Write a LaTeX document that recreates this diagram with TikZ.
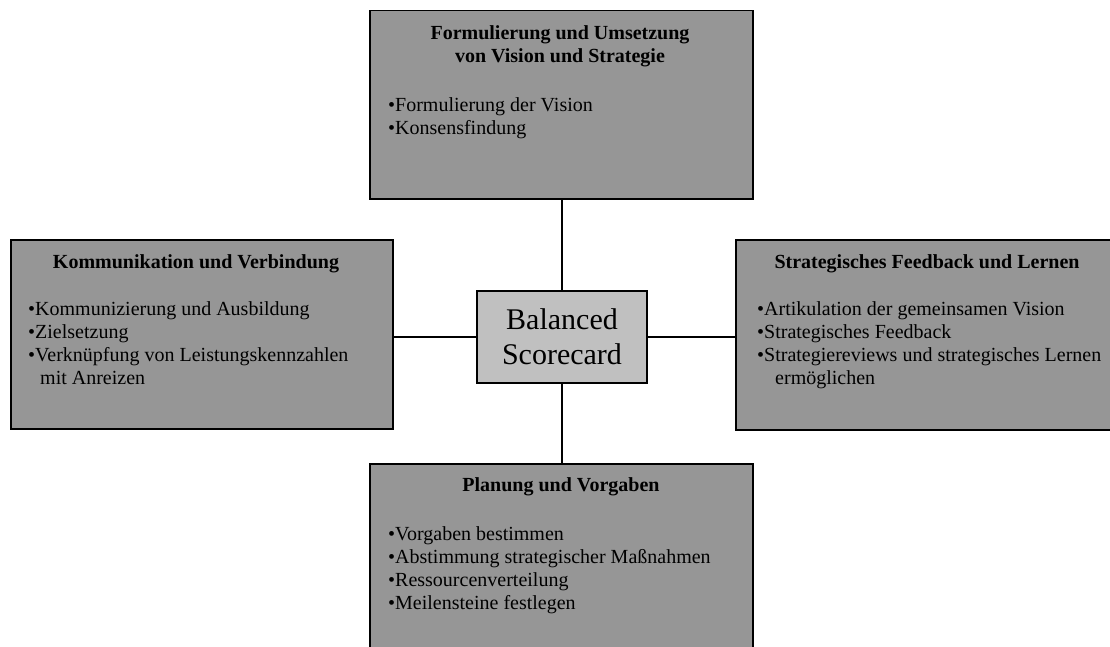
\documentclass[tikz,border=0pt]{standalone}
\usepackage{fontspec}
\setmainfont{Liberation Serif}
\usetikzlibrary{positioning}
\definecolor{boxgray}{RGB}{150,150,150}
\definecolor{coregray}{RGB}{192,192,192}

\begin{document}
\begin{tikzpicture}[x=1pt,y=-1pt,
  field/.style={draw,line width=1.5pt,fill=boxgray,anchor=north west,inner sep=0pt},
  head/.style={font=\fontsize{20}{23}\selectfont\bfseries,anchor=base,align=center,inner sep=0pt},
  item/.style={font=\fontsize{20}{23}\selectfont,anchor=base west,inner sep=0pt},
  link/.style={line width=1.3pt}]
\useasboundingbox (0,0) rectangle (1110,647);
\clip (0,0) rectangle (1110,647);
% the four fields round the core
\node[field,minimum width=383pt,minimum height=188pt] (vision) at (369,10) {};
\node[field,minimum width=382pt,minimum height=189pt] (komm) at (10,239) {};
\node[field,minimum width=450pt,minimum height=190pt] (feedback) at (735,239) {};
\node[field,minimum width=383pt,minimum height=200pt] (planung) at (369,463) {};
\node[draw,line width=1.5pt,fill=coregray,minimum width=170pt,minimum height=92pt,align=center,
  font=\fontsize{30}{35}\selectfont] (bsc) at (562,337) {Balanced\\Scorecard};
% connectors
\draw[link] (bsc.north) -- (bsc.north |- vision.south);
\draw[link] (bsc.south) -- (bsc.south |- planung.north);
\draw[link] (bsc.west) -- (bsc.west -| komm.east);
\draw[link] (bsc.east) -- (bsc.east -| feedback.west);
% top
\node[head] (vision-t) at (560,63) {Formulierung und Umsetzung\\von Vision und Strategie};
\foreach \t [count=\i from 0] in {•Formulierung der Vision,•Konsensfindung}
  \node[item] (vision-\i) at (388,{112+23*\i}) {\t};
% left
\node[head] (komm-t) at (196,268) {Kommunikation und Verbindung};
\foreach \t [count=\i from 0] in {•Kommunizierung und Ausbildung,•Zielsetzung,
    •Verknüpfung von Leistungskennzahlen,\hspace{12pt}mit Anreizen}
  \node[item] (komm-\i) at (28,{315+23*\i}) {\t};
% right
\node[head] (feedback-t) at (927,268) {Strategisches Feedback und Lernen};
\foreach \t [count=\i from 0] in {•Artikulation der gemeinsamen Vision,•Strategisches Feedback,
    •Strategiereviews und strategisches Lernen,\hspace{18pt}ermöglichen}
  \node[item] (feedback-\i) at (757,{315+23*\i}) {\t};
% bottom
\node[head] (planung-t) at (561,491) {Planung und Vorgaben};
\foreach \t [count=\i from 0] in {•Vorgaben bestimmen,•Abstimmung strategischer Maßnahmen,
    •Ressourcenverteilung,•Meilensteine festlegen}
  \node[item] (planung-\i) at (388,{540+23*\i}) {\t};
\end{tikzpicture}
\end{document}
